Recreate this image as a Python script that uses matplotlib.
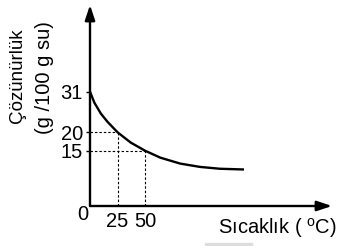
import matplotlib
matplotlib.use("Agg")
import matplotlib.pyplot as plt
from matplotlib.patches import Rectangle

plt.rcParams['font.family'] = ['Liberation Sans', 'DejaVu Sans']
plt.rcParams['mathtext.fontset'] = 'custom'
plt.rcParams['mathtext.rm'] = 'Liberation Sans'

# Data
temperature = [0, 4, 10, 16, 25, 37, 50, 64, 82, 100, 118, 140]
solubility = [31, 28.0, 25.0, 22.8, 20, 17.2, 15, 13.1, 11.5, 10.6, 10.1, 9.9]
marked_temps = [25, 50]
marked_sols = [20, 15]
ytick_values = [15, 20, 31]
ytick_labels = ["15", "20", "31"]
xtick_values = [25, 50]
xtick_labels = ["25", "50"]

W, H = 337, 246
fig = plt.figure(figsize=(W / 100, H / 100), dpi=100)

def fx(px):
    return px / W

def fy(py):
    return 1 - py / H

ax = fig.add_axes([fx(90), fy(206), (332 - 90) / W, (206 - 5) / H])
ax.set_xlim(0, 220)
ax.set_ylim(0, 54.5)
for s in ax.spines.values():
    s.set_visible(False)
ax.patch.set_visible(False)

# axes arrows
arrow_kw = dict(arrowstyle='-|>,head_length=0.9,head_width=0.3', color='black', lw=1.7,
                shrinkA=0, shrinkB=0)
ax.annotate('', xy=(1, 0), xytext=(0, 0), xycoords='axes fraction',
            textcoords='axes fraction', arrowprops=arrow_kw)
ax.annotate('', xy=(0, 1), xytext=(0, 0), xycoords='axes fraction',
            textcoords='axes fraction', arrowprops=arrow_kw)

# curve
ax.plot(temperature, solubility, color='black', lw=1.7, solid_capstyle='butt',
        solid_joinstyle='round')

# dashed guide lines
for t, s in zip(marked_temps, marked_sols):
    ax.plot([0, t], [s, s], color='black', lw=0.8, linestyle=(0, (2.2, 1.8)))
    ax.plot([t, t], [0, s], color='black', lw=0.8, linestyle=(0, (2.2, 1.8)))

fs = 14.5
ax.set_yticks(ytick_values)
ax.set_yticklabels(ytick_labels, fontsize=fs)
ax.tick_params(axis='y', length=3, width=1, pad=2)
ax.set_xticks(xtick_values)
ax.set_xticklabels(xtick_labels, fontsize=fs)
ax.tick_params(axis='x', length=0, pad=4)

fig.text(fx(83), fy(214), "0", fontsize=fs, ha='center', va='center')
fig.text(fx(18), fy(76), "Çözünürlük", fontsize=13.5, rotation=90, ha='center',
         va='center', rotation_mode='anchor')
fig.text(fx(45), fy(77.5), "(g /100 g su)", fontsize=fs, rotation=90, ha='center',
         va='center', rotation_mode='anchor')
fig.text(fx(337), fy(228.5), r"Sıcaklık ( $^{\mathregular{o}}$C)", fontsize=fs,
         ha='right', va='center')

fig.patches.append(Rectangle((fx(205), 0), (252 - 205) / W, 3 / H,
                             transform=fig.transFigure, color='#dddddd', zorder=0))

fig.savefig("out.png", dpi=100)
